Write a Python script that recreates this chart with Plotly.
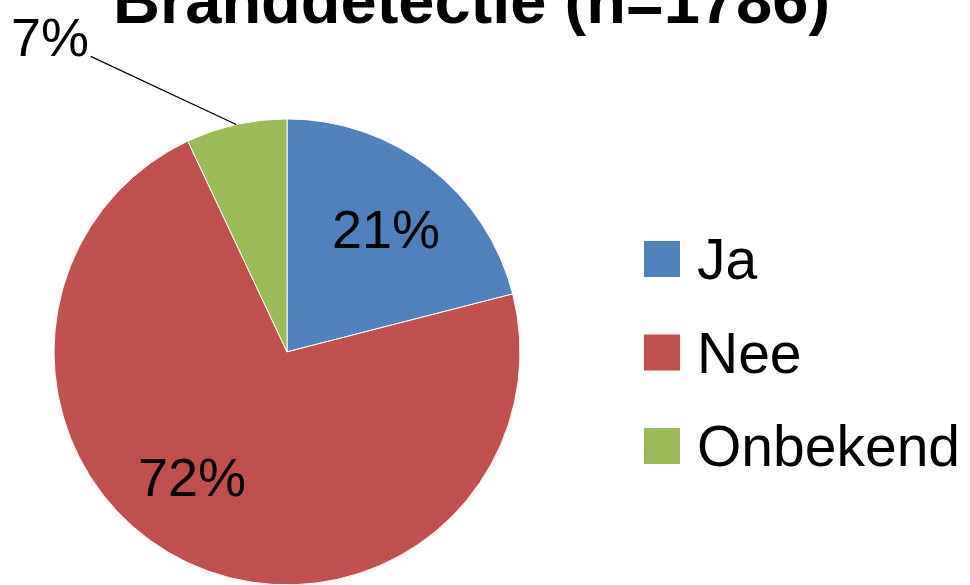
import math
import plotly.graph_objects as go

# ---- data ----
labels = ["Ja", "Nee", "Onbekend"]
values = [21, 72, 7]
colors = ["#4F81BD", "#C0504D", "#9BBB59"]
title_text = "Branddetectie (n=1786)"

# ---- layout constants ----
W, H = 970, 585
dom_x = [0.0557, 0.5361]
dom_y = [0.0, 0.797]
FONT = "Liberation Sans, Arial, sans-serif"
label_size = 54

fig = go.Figure(
    go.Pie(
        labels=labels,
        values=values,
        sort=False,
        direction="clockwise",
        rotation=0,
        marker=dict(colors=colors, line=dict(color="white", width=1)),
        textinfo="none",
        hoverinfo="label+percent",
        showlegend=False,
        domain=dict(x=dom_x, y=dom_y),
    )
)

# pie geometry (derived from the domain, margins are zero)
cx = (dom_x[0] + dom_x[1]) / 2 * W
cy = H - (dom_y[0] + dom_y[1]) / 2 * H
R = min((dom_x[1] - dom_x[0]) * W, (dom_y[1] - dom_y[0]) * H) / 2
total = sum(values)

annotations = []
label_shift = [(3, 0), (-29, 16), (0, 0)]
cum = 0.0
for i, v in enumerate(values):
    mid = (cum + v / 2) / total * 2 * math.pi
    cum += v
    pct = f"{round(v / total * 100)}%"
    if v / total > 0.1:
        r = 0.67 * R
        px = cx + r * math.sin(mid)
        py = cy - r * math.cos(mid)
        annotations.append(dict(
            x=px / W, y=1 - py / H, xref="paper", yref="paper",
            text=pct, showarrow=False, xanchor="center", yanchor="middle",
            xshift=label_shift[i][0], yshift=label_shift[i][1],
            font=dict(family=FONT, size=label_size, color="black"),
        ))
    else:
        px = cx + R * math.sin(mid)
        py = cy - R * math.cos(mid)
        annotations.append(dict(
            x=px / W, y=1 - py / H, xref="paper", yref="paper",
            text=pct, showarrow=True, arrowhead=0, arrowwidth=1.3,
            arrowcolor="black", ax=-186, ay=-87, standoff=0, startstandoff=0,
            xanchor="center", yanchor="middle",
            font=dict(family=FONT, size=label_size, color="black"),
        ))

# title (partly cut off at the top like the reference)
annotations.append(dict(
    x=471 / W, y=1 - 0.5 / H, xref="paper", yref="paper",
    text="<b>" + title_text + "</b>", showarrow=False,
    xanchor="center", yanchor="middle",
    font=dict(family=FONT, size=65, color="black"),
))

# legend (large squares, as in the reference)
shapes = []
for i, (lab, col) in enumerate(zip(labels, colors)):
    yc = 259 + i * 93.5
    shapes.append(dict(
        type="rect", xref="paper", yref="paper",
        x0=644 / W, x1=680 / W, y0=1 - (yc + 18) / H, y1=1 - (yc - 18) / H,
        fillcolor=col, line=dict(width=0),
    ))
    annotations.append(dict(
        x=695 / W, y=1 - yc / H, xref="paper", yref="paper",
        text=lab, showarrow=False, xanchor="left", yanchor="middle",
        font=dict(family=FONT, size=57, color="black"),
    ))

fig.update_layout(
    width=W, height=H,
    margin=dict(l=0, r=0, t=0, b=0),
    paper_bgcolor="white", plot_bgcolor="white",
    showlegend=False,
    annotations=annotations,
    shapes=shapes,
)

fig.write_html(
    "out.html",
    config={"displayModeBar": False},
    post_script="document.body.style.margin='0px';",
)
